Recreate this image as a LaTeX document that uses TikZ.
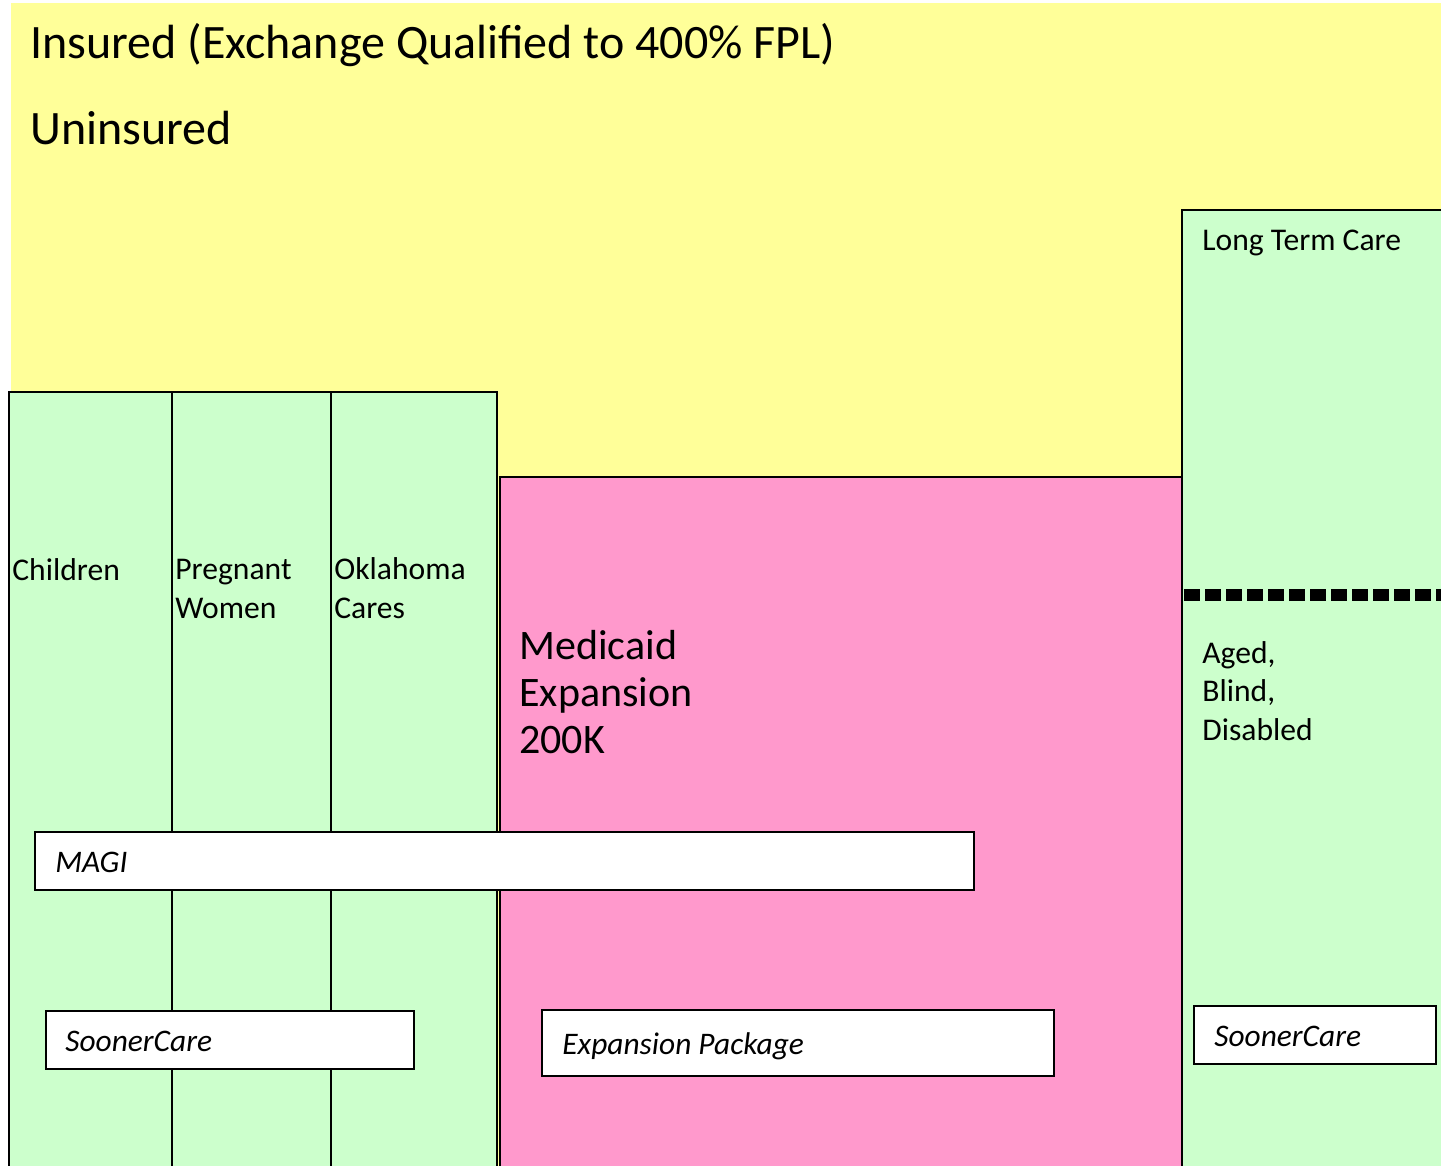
\documentclass[tikz,border=0pt]{standalone}
\usepackage{fontspec}
\setmainfont{Carlito}
\definecolor{yel}{HTML}{FFFF99}
\definecolor{grn}{HTML}{CCFFCC}
\definecolor{pnk}{HTML}{FF99CC}
\begin{document}
\begin{tikzpicture}[x=0.5pt,y=-0.5pt,
  box/.style={draw=black,line width=1pt},
  lbl/.style={anchor=base west,inner sep=0pt,align=left,font=\fontsize{15.8}{19.2}\selectfont},
  big/.style={anchor=base west,inner sep=0pt,font=\fontsize{24}{29}\selectfont},
  mid/.style={anchor=base west,inner sep=0pt,align=left,font=\fontsize{21}{23.5}\selectfont},
  tag/.style={anchor=base west,inner sep=0pt,font=\fontsize{15.7}{19}\selectfont\itshape}]
\useasboundingbox (0,0) rectangle (1441,1166);
\fill[white] (0,0) rectangle (1441,1166);
% yellow background
\fill[yel] (11,3) rectangle (1441,1166);
% left green columns
\draw[box,fill=grn] (9,392) rectangle (497,1170);
\draw[box] (172,392) -- (172,1170);
\draw[box] (331,392) -- (331,1170);
% pink
\draw[box,fill=pnk] (500,477) rectangle (1182,1170);
% right green
\draw[box,fill=grn] (1182,210) rectangle (1445,1170);
\draw[line width=6pt,dash pattern=on 8pt off 2.5pt] (1184,595) -- (1441,595);
% white tag boxes
\draw[box,fill=white] (35,832) rectangle (974,890);
\draw[box,fill=white] (46,1011) rectangle (414,1069);
\draw[box,fill=white] (542,1010) rectangle (1054,1076);
\draw[box,fill=white] (1194,1006) rectangle (1436,1064);
% texts (multi-line nodes are placed by their last baseline)
\node[big] (ins) at (30,59) {Insured (Exchange Qualified to 400\% FPL)};
\node[big] (unins) at (30,145) {Uninsured};
\node[lbl] (ltc) at (1202,251) {Long Term Care};
\node[lbl] (chi) at (12,580) {Children};
\node[lbl] (preg) at (175,618) {Pregnant\\Women};
\node[lbl] (okc) at (334,618) {Oklahoma\\Cares};
\node[mid] (med) at (519,753) {Medicaid\\Expansion\\200K};
\node[lbl] (abd) at (1202,740) {Aged,\\Blind,\\Disabled};
\node[tag] (magi) at (55,872) {MAGI};
\node[tag] (sc1) at (65,1051) {SoonerCare};
\node[tag] (exp) at (562,1054) {Expansion Package};
\node[tag] (sc2) at (1214,1046) {SoonerCare};
\end{tikzpicture}
\end{document}
